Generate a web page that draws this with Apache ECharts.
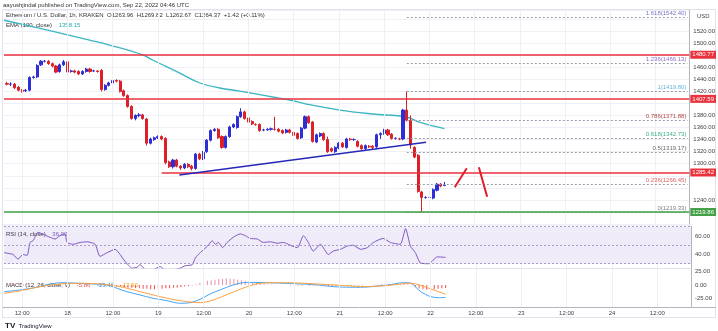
<!DOCTYPE html>
<html><head><meta charset="utf-8">
<script src="https://cdn.jsdelivr.net/npm/echarts@6/dist/echarts.min.js"></script>
<style>html,body{margin:0;padding:0;background:#fff;}#c{width:718px;height:331px;}</style>
</head><body><div id="c"></div>
<script>
// ---- data (hours since 2022-09-17 00:00 UTC) ----
const candleHours = [8,9,10,11,12,13,14,15,16,17,18,19,20,21,22,23,24,25,26,27,28,29,30,31,32,33,34,35,36,37,38,39,40,41,42,43,44,45,46,47,48,49,50,51,52,53,54,55,56,57,58,59,60,61,62,63,64,65,66,67,68,69,70,71,72,73,74,75,76,77,78,79,80,81,82,83,84,85,86,87,88,89,90,91,92,93,94,95,96,97,98,99,100,101,102,103,104,105,106,107,108,109,110,111,112,113,114,115,116,117,118,119,120,121,122,123,124];
const opens = [
1433,1432,1432,1427,1422,1421,1422,1443,1444,1464,
1470,1470,1466,1462,1453,1464,1469,1453,1454,1453,
1449,1453,1457,1454,1454,1455,1423,1430,1434,1438,
1437,1421,1413,1395,1375,1380,1381,1374,1334,1340,
1343,1345,1342,1303,1295,1306,1296,1293,1299,1296,
1292,1316,1308,1320,1339,1355,1357,1345,1327,1345,
1361,1360,1378,1386,1376,1370,1365,1365,1356,1356,
1357,1357,1357,1355,1352,1356,1352,1350,1343,1359,
1378,1369,1336,1346,1350,1340,1325,1320,1326,1334,
1327,1341,1340,1337,1330,1325,1329,1329,1328,1348,
1350,1356,1349,1342,1341,1341,1389,1372,1327,1314,
1253,1244,1244,1243,1256,1266,1263.96];
const closes = [
1432,1432,1426,1422,1420,1422,1443,1444,1463,1470,
1470,1466,1462,1452,1464,1469,1452,1454,1452,1449,
1453,1457,1453,1454,1453,1423,1430,1434,1438,1437,
1420,1413,1395,1375,1380,1381,1375,1334,1341,1343,
1345,1341,1302,1295,1306,1296,1293,1299,1295,1292,
1316,1308,1319,1339,1355,1357,1343,1327,1345,1361,
1365,1378,1386,1375,1369,1366,1365,1355,1356,1357,
1358,1357,1354,1351,1356,1352,1347,1342,1359,1378,
1368,1337,1348,1350,1340,1320,1321,1327,1334,1328,
1341,1340,1340,1329,1325,1330,1328,1327,1348,1350,
1356,1348,1342,1342,1341,1389,1372,1331,1311,1254,
1244,1244,1244,1257,1266,1263,1264.37];
const lows = [
1430,1429,1424,1420,1418,1419,1420,1441,1442,1462,
1468,1464,1460,1450,1451,1462,1450,1451,1450,1447,
1447,1451,1451,1452,1451,1420,1421,1428,1432,1435,
1418,1411,1393,1373,1372,1377,1373,1330,1332,1338,
1341,1339,1299,1293,1292,1294,1290,1291,1293,1289,
1290,1306,1306,1318,1337,1353,1341,1325,1325,1343,
1359,1358,1376,1373,1367,1364,1363,1353,1354,1355,
1355,1355,1352,1349,1350,1350,1345,1340,1341,1357,
1366,1335,1334,1344,1338,1318,1319,1318,1324,1326,
1325,1338,1338,1327,1323,1323,1326,1324,1326,1341,
1348,1346,1340,1340,1339,1339,1370,1325,1309,1252,
1219.33,1242,1241,1241,1254,1261,1262.67];
const highs = [
1436,1435,1434,1429,1424,1424,1445,1446,1465,1472,
1472,1472,1468,1464,1466,1472,1471,1456,1456,1455,
1455,1459,1459,1456,1455,1457,1432,1436,1440,1440,
1439,1423,1415,1397,1382,1384,1383,1376,1343,1345,
1347,1347,1344,1305,1308,1308,1298,1301,1301,1298,
1318,1318,1321,1341,1357,1359,1359,1347,1347,1363,
1367,1380,1392,1388,1378,1372,1367,1367,1358,1359,
1360,1378,1359,1357,1358,1358,1354,1352,1361,1380,
1380,1371,1350,1352,1352,1345,1327,1329,1336,1336,
1343,1343,1342,1339,1332,1332,1331,1331,1350,1352,
1358,1358,1351,1344,1343,1391,1419.8,1380,1329,1316,
1255,1246,1246,1259,1268,1268,1269.82];

// EMA(100) read at sample points [hour, value]
const emaPoints = [[7.2,1538],[18.8,1521.7],[29.9,1505],[35.2,1496.8],[44,1480.5],[46.6,1472],[53.8,1450.4],[59.1,1433.9],[64.4,1425.6],[69.7,1420.6],[78.4,1410.7],[82.9,1405.7],[87.4,1399],[96.2,1389],[104.9,1382.5],[113.9,1377.5],[117.3,1369],[124,1358.15]];

// RSI(14) read points [hour, value]
const rsiPoints = [[7.2,42],[9.6,40],[10.9,35],[12.2,40],[13.3,39],[14.1,53],[14.9,55],[16.2,64],[17.5,62],[19.4,58.5],[20.7,56.7],[22,60.4],[23.3,62.2],[23.9,53],[25.4,51],[27.3,53],[29.2,53.7],[31.3,51],[32.6,38],[34.5,42],[36.6,45.6],[37.9,40],[39.2,32.6],[41.1,25.2],[42.4,26.3],[43.2,29],[45.1,21.4],[46.6,23.3],[48.5,27],[50.3,21.4],[51.9,23.3],[53.8,25.2],[55.1,27.8],[57,29],[57.8,36.3],[59.1,42],[61,49],[62.3,54.8],[63.1,51],[63.9,53],[65,47.4],[66.2,53],[67.8,58.5],[69.7,62.2],[71,60.4],[72.3,57.4],[74.2,56.7],[75.8,53],[77.6,53.7],[79.5,52.2],[81.1,53],[82.9,50],[84.8,47.4],[86.4,60.4],[87.7,53],[89,43.7],[90.9,51],[93,40],[94.3,43.7],[96.2,45.6],[98,49.2],[99.6,50],[101.5,45.6],[103.3,47.4],[104.9,53],[107.5,57.4],[109.4,53],[112,51],[113.4,68],[114.7,49],[116,42],[117.3,31],[119.5,30],[121.8,37.4],[124,36.9]];

// MACD (12,26,9) read points [hour, value]
const macdPoints = [[7.2,-12.6],[11.4,-9.4],[15.9,-4.3],[19.4,1.9],[16.4+6.4,4.3],[26.5,3.2],[30.7,1.9],[34.5,0],[37.1,-6.2],[39.7,-12.6],[43.2,-18.8],[46.6,-25],[50.3,-29.5],[53.7,-34.4],[56.4,-33.3],[59.1,-26.9],[61.7,-16.9],[64.3,-9.4],[67.8,0],[70.4,4.3],[73.1,4.8],[76.8,4.3],[81.1,3.2],[85.6,1.9],[90.2,0],[94.4,-3.2],[98.9,-4.3],[101.5,-4.3],[108.7,0],[112.9,4.3],[114.8,3.2],[117.4,-12.6],[120.1,-22],[122.2,-23.9],[124,-23.46]];
const signalPoints = [[7.2,-15.6],[11.4,-11.3],[16.7,-3.2],[22,1.9],[26.5,3.2],[32.6,1.9],[37.9,-3.2],[43.2,-12.6],[48.5,-22],[53.7,-29.5],[59.1,-33.3],[62.5,-28.2],[67,-15.6],[71.5,-3.2],[75,3.2],[81.1,4.3],[90,1.9],[98.9,-1.9],[101.5,-3.2],[108.7,-1],[114.8,3.2],[120.1,-7.5],[124,-17.6]];
const histValues = [
3,3,2,2,2,2,1,1,1,1,
1,1,1,1,1,1,1,0,0,0,
0,0,0,0,0,-1,-1,-2,-2,-3,
-3,-4,-5,-5,-6,-6,-7,-7,-8,-8,
-7,-7,-6,-6,-5,-5,-4,-3,-2,-1,
2,4,6,8,9,10,11,11,12,12,
11,10,9,8,6,5,4,3,2,1,
1,0,0,0,0,-1,-1,-1,-1,0,
-1,-1,-1,-1,-1,-2,-2,-2,-2,-2,
-2,-2,-1,-1,-1,0,0,1,1,2,
2,2,2,2,2,3,2,0,-3,-6,
-8,-9,-9,-8,-7,-6,-5.86];

// levels & drawings
const resistanceHigh = 1480.77, resistanceMid = 1407.59, resistanceLow = 1285.42, supportLine = 1219.86;
const resistanceLowStart = 49;
const lastPrice = 1264.37, lastPriceTime = '12:40';
const fibLevels = [['1.618',1542.40,'#7b74c8'],['1.236',1466.13,'#8f6cc4'],['1',1419.80,'#63b6d6'],['0.786',1371.88,'#b04848'],['0.618',1342.73,'#3fae8f'],['0.5',1319.17,'#6b6b6b'],['0.236',1266.45,'#e06060'],['0',1219.33,'#808080']];
const fibStart = 114;
const trendLine = [[53.7,1281.3],[119.1,1335.5]];
const arrowUp = [[126.7,1260.9],[129.9,1292.4]];
const arrowDown = [[133.1,1294.0],[135.3,1245.3]];

// axes ticks
const tickHours = [12,24,36,48,60,72,84,96,108,120,132,144,156,168,180];
const tickLabels = ['12:00','18','12:00','19','12:00','20','12:00','21','12:00','22','12:00','23','12:00','24','12:00'];
const priceHidden = [1200,1220,1260,1280,1400,1480,1540];

// ---- chart ----
const FONT = '"Liberation Sans", Arial, sans-serif';
const X_MIN = 7.2, X_MAX = 188.9;
const UP = '#2e2ed6', DOWN = '#dc2028', RED = '#e8323c';
const chart = echarts.init(document.getElementById('c'));

function xAx(gi, labels) {
  return {type:'value', gridIndex:gi, min:X_MIN, max:X_MAX, axisLine:{show:false}, axisTick:{show:false}, splitLine:{show:false},
    axisLabel: labels ? {customValues:tickHours, formatter:(v)=>tickLabels[tickHours.indexOf(v)] || '', fontSize:6, color:'#444', margin:3, fontFamily:FONT} : {show:false}};
}
function vGrid(gi) {
  return {type:'line', xAxisIndex:gi, yAxisIndex:gi, data:[], z:0, silent:true,
    markLine:{silent:true, symbol:['none','none'], animation:false, label:{show:false}, lineStyle:{color:'#eef0f5', width:1, type:'solid'},
      data: tickHours.map(h => ({xAxis:h}))}};
}
function lvl(y, color, text, x0) {
  const item = [{coord:[x0 == null ? X_MIN : x0, y]}, {coord:[X_MAX, y]}];
  item[0].lineStyle = {color:color, width:1.5, type:'solid'};
  item[0].label = {show:true, position:'end', formatter:text, color:'#fff', backgroundColor:color, padding:[1,2,1,2], fontSize:6, fontFamily:FONT, distance:1};
  return item;
}

const candleData = candleHours.map((h,i)=>[h, opens[i], closes[i], lows[i], highs[i]]);
const histData = candleHours.map((h,i)=>[h, histValues[i]]);

const mainMarks = [];
fibLevels.forEach(f => {
  mainMarks.push([{coord:[fibStart, f[1]], lineStyle:{color:'#9a9ca6', width:1, type:[2,2]},
    label:{show:true, position:'insideEndTop', formatter:f[0]+'('+f[1].toFixed(2)+')', color:f[2], fontSize:6, fontFamily:FONT, distance:1}}, {coord:[X_MAX-0.5, f[1]]}]);
});
mainMarks.push(lvl(resistanceHigh, RED, resistanceHigh.toFixed(2)));
mainMarks.push(lvl(resistanceMid, RED, resistanceMid.toFixed(2)));
mainMarks.push(lvl(resistanceLow, RED, resistanceLow.toFixed(2), resistanceLowStart));
mainMarks.push(lvl(supportLine, '#43a047', supportLine.toFixed(2)));
const lp = [{coord:[X_MAX-0.2, lastPrice], lineStyle:{opacity:0},
  label:{show:true, position:'end', formatter:lastPrice.toFixed(2)+'\n'+lastPriceTime, color:'#fff', backgroundColor:'#1f3fe0', padding:[1,2,1,2], fontSize:6, lineHeight:7, fontFamily:FONT, distance:1}}, {coord:[X_MAX, lastPrice]}];
mainMarks.push(lp);
mainMarks.push([{coord:trendLine[0], lineStyle:{color:'#2727b8', width:1.6, type:'solid'}, label:{show:false}}, {coord:trendLine[1]}]);
mainMarks.push([{coord:arrowUp[0], lineStyle:{color:'#e0202a', width:2, type:'solid'}, label:{show:false}}, {coord:arrowUp[1]}]);
mainMarks.push([{coord:arrowDown[0], lineStyle:{color:'#e0202a', width:2, type:'solid'}, label:{show:false}}, {coord:arrowDown[1]}]);

const txt = (x,y,t,opt) => Object.assign({type:'text', left:x, top:y, silent:true, style:Object.assign({text:t, fontSize:6, fill:'#333', fontFamily:FONT}, opt||{})});

chart.setOption({
  animation:false,
  backgroundColor:'#fff',
  grid:[
    {left:4, top:10, width:687, height:214},
    {left:4, top:226, width:687, height:42},
    {left:4, top:269, width:687, height:38}
  ],
  xAxis:[xAx(0,false), xAx(1,false), xAx(2,true)],
  yAxis:[
    {type:'value', gridIndex:0, position:'right', min:1200, max:1555, interval:20, scale:true,
      axisLine:{show:true, lineStyle:{color:'#b2b5be'}}, axisTick:{show:false},
      splitLine:{show:true, lineStyle:{color:'#eef0f5'}},
      axisLabel:{fontSize:6, color:'#444', margin:4, fontFamily:FONT, showMaxLabel:false,
        formatter:(v)=> priceHidden.indexOf(v) >= 0 ? '' : v.toFixed(2)}},
    {type:'value', gridIndex:1, position:'right', min:25.4, max:70.8,
      axisLine:{show:true, lineStyle:{color:'#b2b5be'}}, axisTick:{show:false}, splitLine:{show:false},
      axisLabel:{customValues:[40,60], fontSize:6, color:'#444', margin:4, fontFamily:FONT, formatter:(v)=>v.toFixed(2)}},
    {type:'value', gridIndex:2, position:'right', min:-41.4, max:30,
      axisLine:{show:true, lineStyle:{color:'#b2b5be'}}, axisTick:{show:false}, splitLine:{show:false},
      axisLabel:{customValues:[-25,0,25], fontSize:6, color:'#444', margin:4, fontFamily:FONT, formatter:(v)=>v.toFixed(2)}}
  ],
  series:[
    vGrid(0), vGrid(1), vGrid(2),
    {type:'candlestick', xAxisIndex:0, yAxisIndex:0, data:candleData, encode:{x:0, y:[1,2,3,4]}, barWidth:2.6, z:3,
      itemStyle:{color:UP, color0:DOWN, borderColor:UP, borderColor0:DOWN, borderWidth:1},
      markLine:{silent:true, symbol:['none','none'], animation:false, data:mainMarks}},
    {type:'line', xAxisIndex:0, yAxisIndex:0, data:emaPoints, smooth:0.4, showSymbol:false, z:2,
      lineStyle:{color:'#3bb5c1', width:1.3}},
    {type:'line', xAxisIndex:1, yAxisIndex:1, data:rsiPoints, smooth:0.2, showSymbol:false, z:3,
      lineStyle:{color:'#7e57c2', width:1},
      markArea:{silent:true, itemStyle:{color:'rgba(126,87,194,0.12)'}, data:[[{yAxis:30},{yAxis:70}]]},
      markLine:{silent:true, symbol:['none','none'], label:{show:false}, lineStyle:{color:'#a99bc7', type:[2,2], width:1},
        data:[{yAxis:70},{yAxis:50},{yAxis:30}]}},
    {type:'bar', xAxisIndex:2, yAxisIndex:2, data:histData, barWidth:1, z:2,
      itemStyle:{color:(p)=> p.value[1] >= 0 ? '#e98fb0' : '#ef5350'}},
    {type:'line', xAxisIndex:2, yAxisIndex:2, data:macdPoints, smooth:0.3, showSymbol:false, z:3,
      lineStyle:{color:'#42a5f5', width:1}},
    {type:'line', xAxisIndex:2, yAxisIndex:2, data:signalPoints, smooth:0.3, showSymbol:false, z:3,
      lineStyle:{color:'#ffa040', width:1}}
  ],
  graphic:[
    {type:'rect', silent:true, shape:{x:2.5, y:9.5, width:713, height:308}, style:{fill:'none', stroke:'#e0e3eb', lineWidth:1}},
    {type:'line', silent:true, shape:{x1:3, y1:225, x2:691, y2:225}, style:{stroke:'#e0e3eb', lineWidth:1}},
    {type:'line', silent:true, shape:{x1:3, y1:268.5, x2:691, y2:268.5}, style:{stroke:'#e0e3eb', lineWidth:1}},
    {type:'line', silent:true, shape:{x1:3, y1:307.5, x2:716, y2:307.5}, style:{stroke:'#b2b5be', lineWidth:1}},
    txt(3,2,'aayushjindal published on TradingView.com, Sep 22, 2022 04:46 UTC'),
    txt(6,12,'Ethereum / U.S. Dollar, 1h, KRAKEN  O1263.96  H1269.82  L1262.67  C1264.37  +1.42 (+0.11%)'),
    {type:'text', left:6, top:19, silent:true, style:{rich:{a:{fontSize:6, fill:'#333', fontFamily:FONT}, b:{fontSize:6, fill:'#26a6b0', fontFamily:FONT}}, text:'{a|EMA (100, close)}  {b|1358.15}'}},
    {type:'text', left:6, top:228, silent:true, style:{rich:{a:{fontSize:6, fill:'#333', fontFamily:FONT}, b:{fontSize:6, fill:'#7e57c2', fontFamily:FONT}}, text:'{a|RSI (14, close)}  {b|36.90}'}},
    {type:'text', left:6, top:279, silent:true, style:{rich:{a:{fontSize:6, fill:'#333', fontFamily:FONT}, r:{fontSize:6, fill:'#ef5350', fontFamily:FONT}, b:{fontSize:6, fill:'#2196f3', fontFamily:FONT}, o:{fontSize:6, fill:'#ff9800', fontFamily:FONT}}, text:'{a|MACD (12, 26, close, 9)}  {r|-5.86}  {b|-23.46}  {o|-17.60}'}},
    txt(697,13,'USD',{fill:'#444'}),
    {type:'text', left:5, top:320, silent:true, style:{rich:{t:{fontSize:8, fontWeight:'bold', fill:'#131722', fontFamily:FONT}, n:{fontSize:6, fill:'#131722', fontFamily:FONT}}, text:'{t|TV} {n|TradingView}'}}
  ]
});
</script>
</body></html>
